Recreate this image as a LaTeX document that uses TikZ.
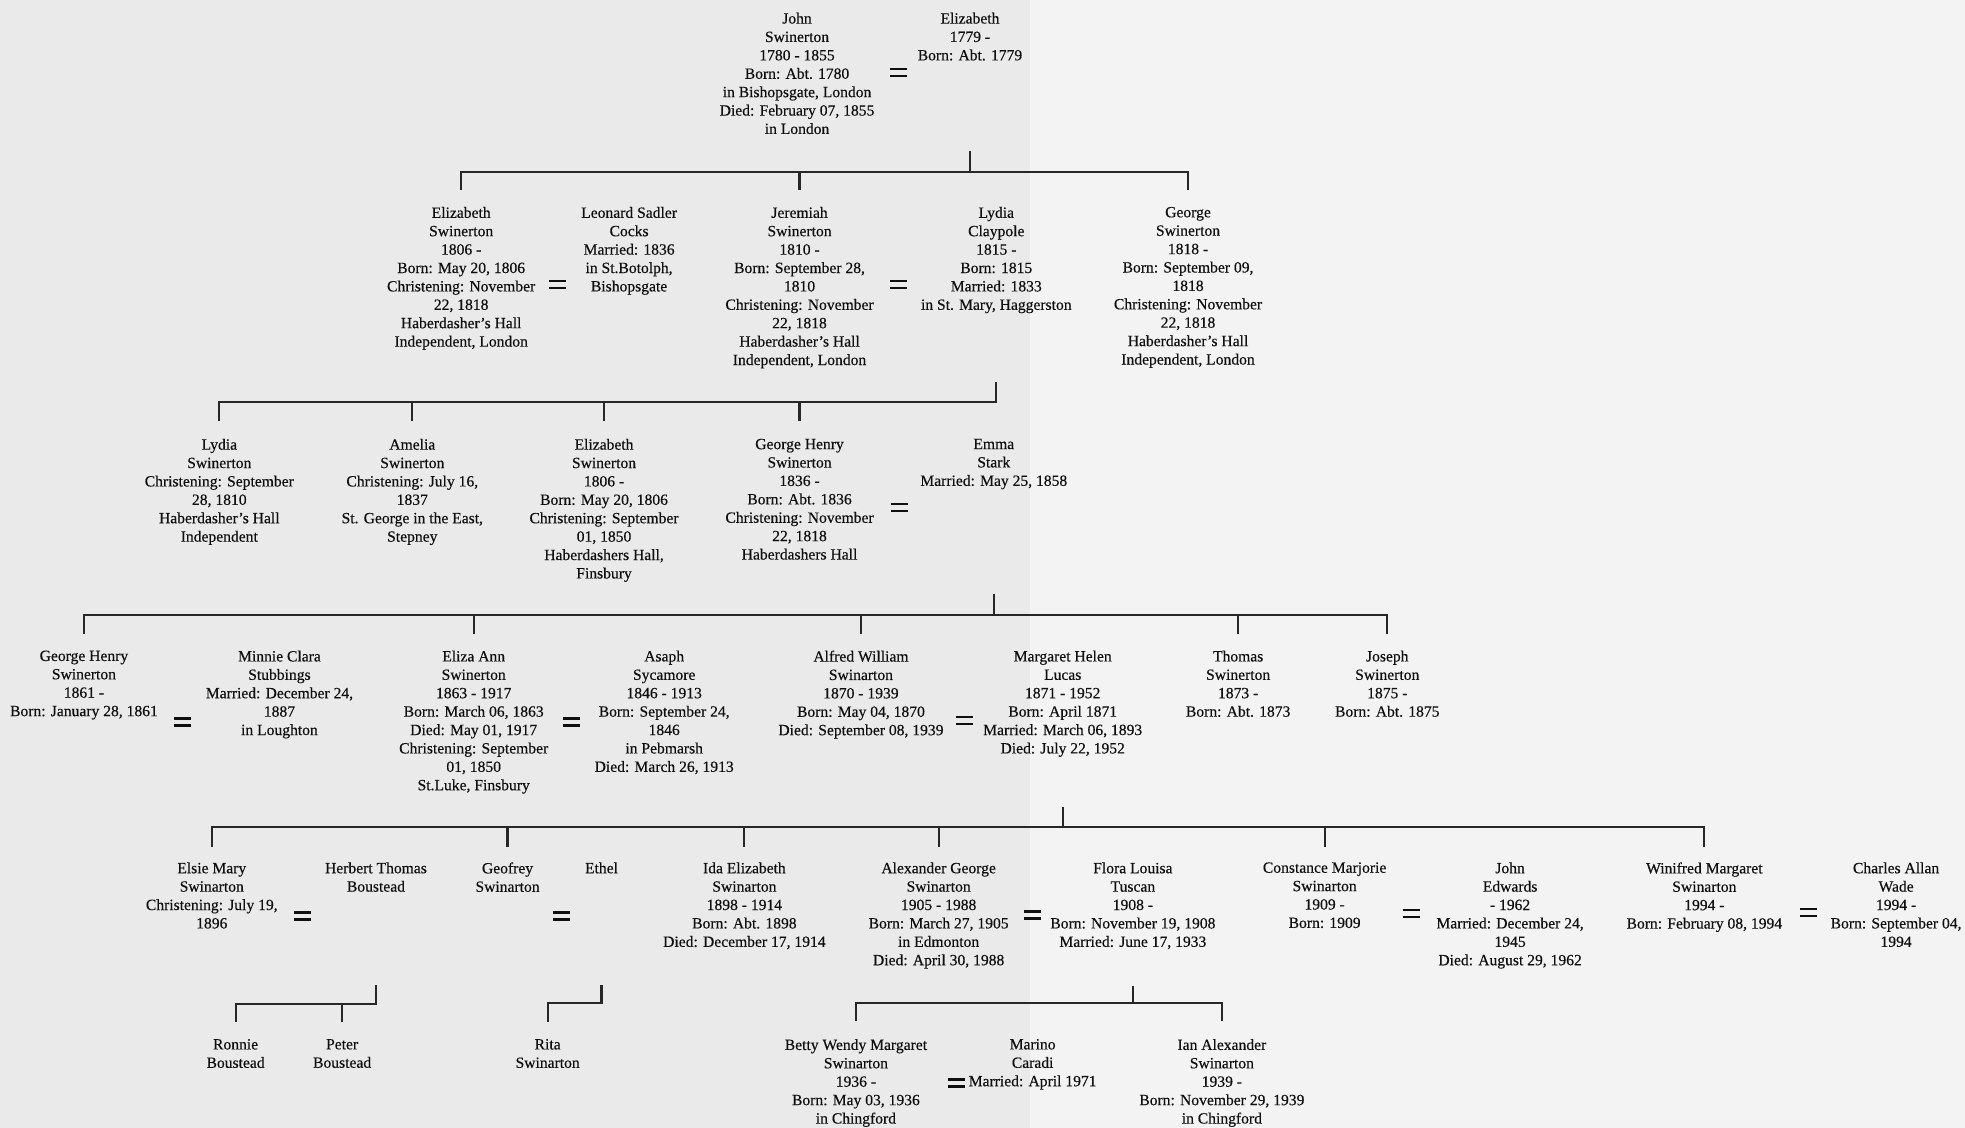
\documentclass[tikz,border=0pt]{standalone}
\usepackage{fontspec}
\setmainfont{Liberation Serif}[FakeBold=0.35]
\newcommand\eqmark{\vbox{\hrule width 17pt height 2.6pt\vskip 4.4pt\hrule width 17pt height 2.6pt}}
\definecolor{paperL}{HTML}{EAEAEA}
\definecolor{paperR}{HTML}{F3F3F3}
\definecolor{ink}{HTML}{0F0F0F}
\begin{document}
\begin{tikzpicture}[x=1.2532pt,y=-1.2532pt,
  person/.style={anchor=north,align=center,inner sep=0pt,font={\fontsize{15.6}{18.4}\selectfont},text=ink},
  marr/.style={inner sep=0pt,text=ink},
  conn/.style={line width=2.1pt,draw=ink!90,line cap=rect}]
\useasboundingbox (0,0) rectangle (1568,900);
\fill[paperL] (0,0) rectangle (822,900);
\fill[paperR] (822,0) rectangle (1568,900);

% ---------- Generation 1
\node[person] (john) at (636,10) {John\\Swinerton\\1780 - 1855\\Born: Abt. 1780\\in Bishopsgate, London\\Died: February 07, 1855\\in London};
\node[marr] (eqA) at (717,58) {\eqmark};
\node[person] (elizA) at (774,10) {Elizabeth\\1779 -\\Born: Abt. 1779};

% ---------- Generation 2
\node[person] (elizB) at (368,165) {Elizabeth\\Swinerton\\1806 -\\Born: May 20, 1806\\Christening: November\\22, 1818\\Haberdasher's Hall\\Independent, London};
\node[marr] (eqB1) at (445,227) {\eqmark};
\node[person] (leonard) at (502,165) {Leonard Sadler\\Cocks\\Married: 1836\\in St.Botolph,\\Bishopsgate};
\node[person] (jeremiah) at (638,165) {Jeremiah\\Swinerton\\1810 -\\Born: September 28,\\1810\\Christening: November\\22, 1818\\Haberdasher's Hall\\Independent, London};
\node[marr] (eqB2) at (717,227) {\eqmark};
\node[person] (lydiaC) at (795,165) {Lydia\\Claypole\\1815 -\\Born: 1815\\Married: 1833\\in St. Mary, Haggerston};
\node[person] (george) at (948,165) {George\\Swinerton\\1818 -\\Born: September 09,\\1818\\Christening: November\\22, 1818\\Haberdasher's Hall\\Independent, London};

% ---------- Generation 3
\node[person] (lydiaS) at (175,350) {Lydia\\Swinerton\\Christening: September\\28, 1810\\Haberdasher's Hall\\Independent};
\node[person] (amelia) at (329,350) {Amelia\\Swinerton\\Christening: July 16,\\1837\\St. George in the East,\\Stepney};
\node[person] (elizC) at (482,350) {Elizabeth\\Swinerton\\1806 -\\Born: May 20, 1806\\Christening: September\\01, 1850\\Haberdashers Hall,\\Finsbury};
\node[person] (georgeH) at (638,350) {George Henry\\Swinerton\\1836 -\\Born: Abt. 1836\\Christening: November\\22, 1818\\Haberdashers Hall};
\node[marr] (eqC) at (718,405) {\eqmark};
\node[person] (emma) at (793,350) {Emma\\Stark\\Married: May 25, 1858};

% ---------- Generation 4
\node[person] (georgeH2) at (67,519) {George Henry\\Swinerton\\1861 -\\Born: January 28, 1861};
\node[marr] (eqD1) at (146,576) {\eqmark};
\node[person] (minnie) at (223,519) {Minnie Clara\\Stubbings\\Married: December 24,\\1887\\in Loughton};
\node[person] (eliza) at (378,519) {Eliza Ann\\Swinerton\\1863 - 1917\\Born: March 06, 1863\\Died: May 01, 1917\\Christening: September\\01, 1850\\St.Luke, Finsbury};
\node[marr] (eqD2) at (456,576) {\eqmark};
\node[person] (asaph) at (530,519) {Asaph\\Sycamore\\1846 - 1913\\Born: September 24,\\1846\\in Pebmarsh\\Died: March 26, 1913};
\node[person] (alfred) at (687,519) {Alfred William\\Swinarton\\1870 - 1939\\Born: May 04, 1870\\Died: September 08, 1939};
\node[marr] (eqD3) at (770,575) {\eqmark};
\node[person] (margaret) at (848,519) {Margaret Helen\\Lucas\\1871 - 1952\\Born: April 1871\\Married: March 06, 1893\\Died: July 22, 1952};
\node[person] (thomas) at (988,519) {Thomas\\Swinerton\\1873 -\\Born: Abt. 1873};
\node[person] (joseph) at (1107,519) {Joseph\\Swinerton\\1875 -\\Born: Abt. 1875};

% ---------- Generation 5
\node[person] (elsie) at (169,688) {Elsie Mary\\Swinarton\\Christening: July 19,\\1896};
\node[marr] (eqE1) at (241,731) {\eqmark};
\node[person] (herbert) at (300,688) {Herbert Thomas\\Boustead};
\node[person] (geofrey) at (405,688) {Geofrey\\Swinarton};
\node[marr] (eqE2) at (448,731) {\eqmark};
\node[person] (ethel) at (480,688) {Ethel};
\node[person] (ida) at (594,688) {Ida Elizabeth\\Swinarton\\1898 - 1914\\Born: Abt. 1898\\Died: December 17, 1914};
\node[person] (alexander) at (749,688) {Alexander George\\Swinarton\\1905 - 1988\\Born: March 27, 1905\\in Edmonton\\Died: April 30, 1988};
\node[marr] (eqE3) at (824,730) {\eqmark};
\node[person] (flora) at (904,688) {Flora Louisa\\Tuscan\\1908 -\\Born: November 19, 1908\\Married: June 17, 1933};
\node[person] (constance) at (1057,688) {Constance Marjorie\\Swinarton\\1909 -\\Born: 1909};
\node[marr] (eqE4) at (1126,729) {\eqmark};
\node[person] (johnE) at (1205,688) {John\\Edwards\\- 1962\\Married: December 24,\\1945\\Died: August 29, 1962};
\node[person] (winifred) at (1360,688) {Winifred Margaret\\Swinarton\\1994 -\\Born: February 08, 1994};
\node[marr] (eqE5) at (1443,728) {\eqmark};
\node[person] (charles) at (1513,688) {Charles Allan\\Wade\\1994 -\\Born: September 04,\\1994};

% ---------- Generation 6
\node[person] (ronnie) at (188,829) {Ronnie\\Boustead};
\node[person] (peter) at (273,829) {Peter\\Boustead};
\node[person] (rita) at (437,829) {Rita\\Swinarton};
\node[person] (betty) at (683,829) {Betty Wendy Margaret\\Swinarton\\1936 -\\Born: May 03, 1936\\in Chingford};
\node[marr] (eqF) at (763,864) {\eqmark};
\node[person] (marino) at (824,829) {Marino\\Caradi\\Married: April 1971};
\node[person] (ian) at (975,829) {Ian Alexander\\Swinarton\\1939 -\\Born: November 29, 1939\\in Chingford};

% ---------- Connectors
% family 1
\coordinate (top1) at (elizA.north |- 0,121);
\coordinate (bus1) at (elizA.north |- 0,137);
\draw[conn] (top1) -- (bus1);
\draw[conn] (elizB.north |- bus1) -- (george.north |- bus1);
\foreach \c in {elizB,jeremiah,george} \draw[conn] (\c.north |- bus1) -- +(0,14);
% family 2
\coordinate (top2) at (lydiaC.north |- 0,306);
\coordinate (bus2) at (lydiaC.north |- 0,321);
\draw[conn] (top2) -- (bus2) -- (lydiaS.north |- bus2);
\foreach \c in {lydiaS,amelia,elizC,georgeH} \draw[conn] (\c.north |- bus2) -- +(0,14);
% family 3
\coordinate (top3) at (emma.north |- 0,475);
\coordinate (bus3) at (emma.north |- 0,491);
\draw[conn] (top3) -- (bus3);
\draw[conn] (georgeH2.north |- bus3) -- (joseph.north |- bus3);
\foreach \c in {georgeH2,eliza,alfred,thomas,joseph} \draw[conn] (\c.north |- bus3) -- +(0,14);
% family 4
\coordinate (top4) at (margaret.north |- 0,645);
\coordinate (bus4) at (margaret.north |- 0,660);
\draw[conn] (top4) -- (bus4);
\draw[conn] (elsie.north |- bus4) -- (winifred.north |- bus4);
\foreach \c in {elsie,geofrey,ida,alexander,constance,winifred} \draw[conn] (\c.north |- bus4) -- +(0,15);
% family 5a
\coordinate (top5) at (herbert.north |- 0,787);
\coordinate (bus5) at (herbert.north |- 0,801);
\draw[conn] (top5) -- (bus5) -- (ronnie.north |- bus5);
\foreach \c in {ronnie,peter} \draw[conn] (\c.north |- bus5) -- +(0,14);
% family 5b
\coordinate (top6) at (ethel.north |- 0,787);
\coordinate (bus6) at (ethel.north |- 0,800);
\draw[conn] (top6) -- (bus6) -- (rita.north |- bus6) -- +(0,15);
% family 5c
\coordinate (top7) at (flora.north |- 0,788);
\coordinate (bus7) at (flora.north |- 0,800);
\draw[conn] (top7) -- (bus7);
\draw[conn] (betty.north |- bus7) -- (ian.north |- bus7);
\foreach \c in {betty,ian} \draw[conn] (\c.north |- bus7) -- +(0,14);
\end{tikzpicture}
\end{document}
